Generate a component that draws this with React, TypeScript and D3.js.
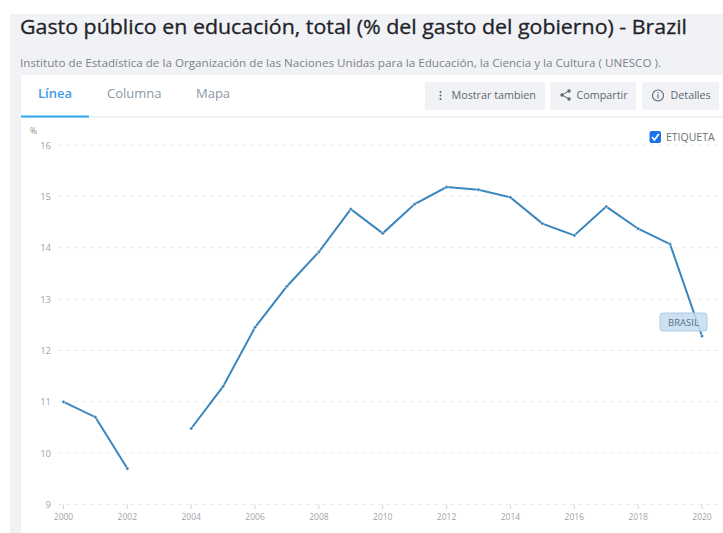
import React from "react";
import * as d3 from "d3";

const years = [2000,2001,2002,2003,2004,2005,2006,2007,2008,2009,2010,2011,2012,2013,2014,2015,2016,2017,2018,2019,2020];
const values: (number|null)[] = [11.0,10.7,9.7,null,10.48,11.3,12.45,13.25,13.92,14.75,14.28,14.85,15.18,15.13,14.98,14.47,14.24,14.8,14.37,14.07,12.28];
const yTicks = [9,10,11,12,13,14,15,16];
const xTicks = [2000,2002,2004,2006,2008,2010,2012,2014,2016,2018,2020];
const title = "Gasto público en educación, total (% del gasto del gobierno) - Brazil";
const subtitle = "Instituto de Estadística de la Organización de las Naciones Unidas para la Educación, la Ciencia y la Cultura ( UNESCO ).";
const tabs = ["Línea","Columna","Mapa"];
const FONT = "'Open Sans', sans-serif";

export default function App() {
  const x = d3.scaleLinear().domain([2000,2020]).range([63.5,702]);
  const y = d3.scaleLinear().domain([9,16]).range([504.5,145]);
  const line = d3.line<number>()
    .defined((_,i)=>values[i]!==null)
    .x((_,i)=>x(years[i]))
    .y((_,i)=>y(values[i] as number));
  const tabX = [38,107,196];
  return (
    <svg width={723} height={533} viewBox="0 0 723 533" style={{position:"absolute",left:0,top:0,fontFamily:FONT}}>
      <rect width={723} height={533} fill="#fff"/>
      <rect x={10} y={14} width={713} height={519} fill="#f0f2f6"/>
      <rect x={21} y={75} width={702} height={458} fill="#fff"/>
      <text x={20} y={33.5} fontSize={20} fontWeight={500} fill="#1f2328" stroke="#1f2328" strokeWidth={0.3} textLength={667} lengthAdjust="spacingAndGlyphs">{title}</text>
      <text x={20} y={67} fontSize={11.67} fill="#7d8288">{subtitle}</text>

      <line x1={21} x2={723} y1={117} y2={117} stroke="#eceef1" strokeWidth={1.5}/>
      <rect x={21} y={115.5} width={68} height={2} fill="#2ea7f2"/>
      {tabs.map((t,i)=>(
        <text key={t} x={tabX[i]} y={97.5} fontSize={13} fontWeight={i===0?600:400} fill={i===0?"#3f9be8":"#8a99a8"}>{t}</text>
      ))}

      <rect x={425} y={82} width={120} height={28} rx={2} fill="#f0f2f6"/>
      <rect x={550} y={82} width={86} height={28} rx={2} fill="#f0f2f6"/>
      <rect x={642} y={82} width={77} height={28} rx={2} fill="#f0f2f6"/>
      <g fill="#5c6670">
        <circle cx={440.5} cy={92} r={1}/><circle cx={440.5} cy={95.5} r={1}/><circle cx={440.5} cy={99} r={1}/>
        <circle cx={562} cy={95} r={1.7}/><circle cx={569} cy={91} r={1.7}/><circle cx={569} cy={99} r={1.7}/>
      </g>
      <path d="M569 91L562 95L569 99" fill="none" stroke="#5c6670" strokeWidth={1}/>
      <circle cx={658} cy={95.5} r={5.5} fill="none" stroke="#5c6670" strokeWidth={1.1}/>
      <line x1={658} x2={658} y1={94.5} y2={98.5} stroke="#5c6670" strokeWidth={1.1}/>
      <circle cx={658} cy={92.7} r={0.7} fill="#5c6670"/>
      <g fontSize={10.75} fill="#5f6770">
        <text x={451.5} y={99}>Mostrar tambien</text>
        <text x={576.5} y={99}>Compartir</text>
        <text x={670.5} y={99}>Detalles</text>
      </g>

      <rect x={649.5} y={131} width={11.5} height={12} rx={2} fill="#1a73e8"/>
      <path d="M652 137L654.5 139.8L658.8 134" fill="none" stroke="#fff" strokeWidth={1.7}/>
      <text x={666} y={141} fontSize={10.5} fill="#6a7178">ETIQUETA</text>

      <text x={30} y={134} fontSize={8.5} fill="#8a8f95">%</text>
      {yTicks.map(t=>(
        <g key={t}>
          <line x1={58} x2={723} y1={y(t)} y2={y(t)} stroke="#ececec" strokeWidth={1} strokeDasharray="4 4"/>
          <text x={51} y={y(t)+3.5} textAnchor="end" fontSize={9.5} fill="#a0a4a8">{t}</text>
        </g>
      ))}
      {xTicks.map(t=>(
        <g key={t}>
          <line x1={x(t)} x2={x(t)} y1={504.5} y2={509} stroke="#d5d5d5"/>
          <text x={x(t)} y={520} textAnchor="middle" fontSize={8.5} fill="#a0a4a8">{t}</text>
        </g>
      ))}

      <path d={line(years) ?? ""} fill="none" stroke="#3a86bd" strokeWidth={2}/>
      {years.map((yr,i)=> values[i]===null ? null : (
        <circle key={yr} cx={x(yr)} cy={y(values[i] as number)} r={1.6} fill="#2f78ad" stroke="#fff" strokeWidth={0.5}/>
      ))}

      <rect x={660} y={313} width={47} height={18} rx={3} fill="#c5dcee" fillOpacity={0.85} stroke="#a9cce6" strokeWidth={1}/>
      <text x={683.5} y={326} textAnchor="middle" fontSize={9.5} fill="#56708e">BRASIL</text>
    </svg>
  );
}
